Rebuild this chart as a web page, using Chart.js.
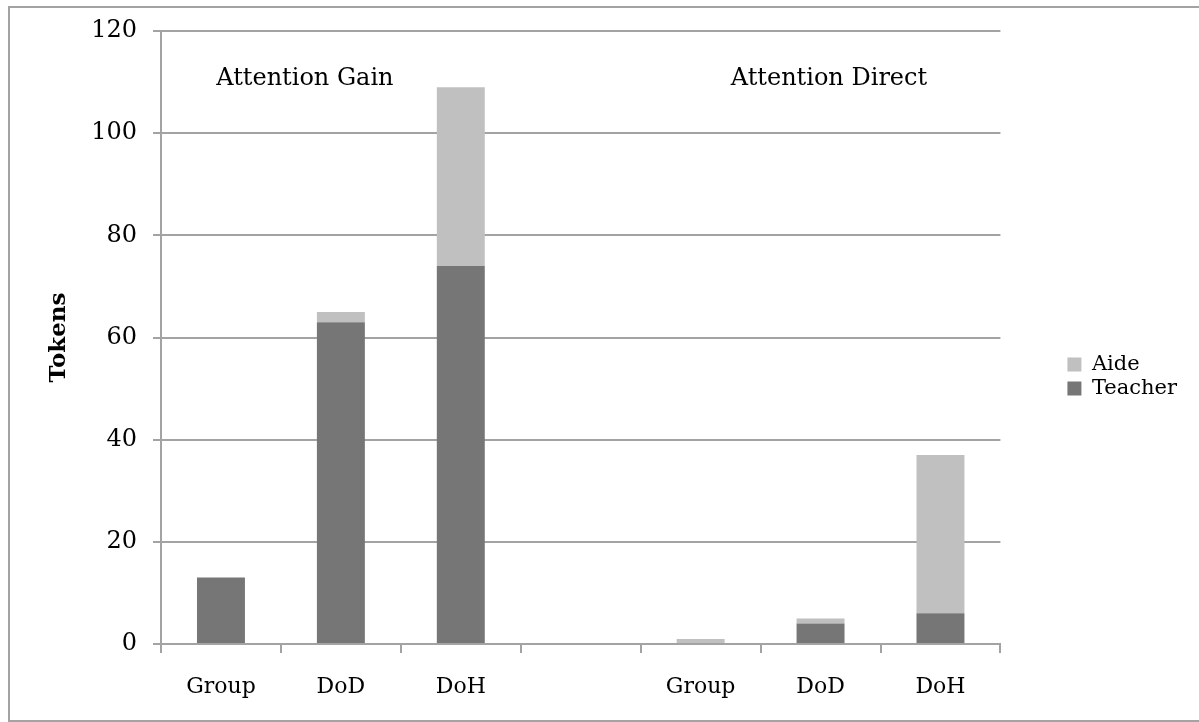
<!DOCTYPE html>
<html lang="en">
<head>
    <meta charset="UTF-8">
    <title>Tokens by type</title>
    <script src="https://cdn.jsdelivr.net/npm/chart.js"></script>
    <style>
        body { margin: 0; background: #fff; }
        #wrap { position: relative; width: 1199px; height: 722px; }
    </style>
</head>
<body>
    <div id="wrap">
        <canvas id="chart"></canvas>
    </div>
    <script>
        // data
        var categories = ['Group', 'DoD', 'DoH', '', 'Group', 'DoD', 'DoH'];
        var teacher = [13, 63, 74, null, 0, 4, 6];
        var aide = [0, 2, 35, null, 1, 1, 31];
        var yTicks = [0, 20, 40, 60, 80, 100, 120];
        var groupTitles = ['Attention Gain', 'Attention Direct'];

        var fontFamily = "'DejaVu Serif', 'Liberation Serif', serif";
        var lineGray = '#a3a3a3';

        // outer frame + the two group captions
        var extras = {
            id: 'extras',
            beforeDraw: function(chart) {
                var c = chart.ctx;
                c.save();
                c.strokeStyle = lineGray;
                c.lineWidth = 2;
                c.beginPath();
                c.moveTo(1199, 7);
                c.lineTo(9, 7);
                c.lineTo(9, 721);
                c.lineTo(1199, 721);
                c.stroke();
                c.restore();
            },
            afterDatasetsDraw: function(chart) {
                var c = chart.ctx;
                var x = chart.scales.x, y = chart.scales.y;
                var step = x.getPixelForValue(1) - x.getPixelForValue(0);
                var spots = [0.70, 5.07];
                c.save();
                c.fillStyle = '#000';
                c.font = '24px ' + fontFamily;
                c.textAlign = 'center';
                c.textBaseline = 'middle';
                groupTitles.forEach(function(t, i) {
                    c.fillText(t, x.getPixelForValue(0) + spots[i] * step, y.getPixelForValue(110.6));
                });
                c.restore();
            }
        };

        var ctx = document.getElementById('chart').getContext('2d');
        var chart = new Chart(ctx, {
            type: 'bar',
            data: {
                labels: categories,
                datasets: [
                    {
                        label: 'Teacher',
                        data: teacher,
                        backgroundColor: '#767676',
                        borderWidth: 0
                    },
                    {
                        label: 'Aide',
                        data: aide,
                        backgroundColor: '#c0c0c0',
                        borderWidth: 0
                    }
                ]
            },
            options: {
                responsive: true,
                maintainAspectRatio: false,
                animation: false,
                layout: { padding: { top: 31, left: 0, right: 12, bottom: 0 } },
                datasets: { bar: { categoryPercentage: 1, barPercentage: 0.4 } },
                plugins: {
                    legend: {
                        position: 'right',
                        reverse: true,
                        labels: {
                            boxWidth: 14,
                            boxHeight: 14,
                            padding: 3,
                            color: '#000',
                            font: { family: fontFamily, size: 21 }
                        }
                    },
                    tooltip: { enabled: false }
                },
                scales: {
                    x: {
                        stacked: true,
                        afterFit: function(s) { s.height = 78; },
                        grid: {
                            offset: true,
                            drawOnChartArea: false,
                            drawTicks: true,
                            tickLength: 9,
                            color: lineGray,
                            lineWidth: 2
                        },
                        border: { color: lineGray, width: 2 },
                        ticks: {
                            color: '#000',
                            padding: 21,
                            font: { family: fontFamily, size: 22 }
                        }
                    },
                    y: {
                        stacked: true,
                        min: 0,
                        max: 120,
                        afterFit: function(s) { s.width = 161; },
                        afterBuildTicks: function(s) {
                            s.ticks = yTicks.map(function(v) { return { value: v }; });
                        },
                        grid: {
                            color: lineGray,
                            lineWidth: 2,
                            tickLength: 8
                        },
                        border: { color: lineGray, width: 2 },
                        ticks: {
                            color: '#000',
                            padding: 16,
                            font: { family: fontFamily, size: 24 }
                        },
                        title: {
                            display: true,
                            text: 'Tokens',
                            color: '#000',
                            padding: { top: 45, bottom: 4 },
                            font: { family: fontFamily, size: 23, weight: 'bold' }
                        }
                    },
                    // empty spacer between plot and legend
                    gap: {
                        type: 'linear',
                        position: 'right',
                        display: true,
                        afterFit: function(s) { s.width = 64; },
                        grid: { display: false },
                        border: { display: false },
                        ticks: { display: false }
                    }
                }
            },
            plugins: [extras]
        });
    </script>
</body>
</html>
